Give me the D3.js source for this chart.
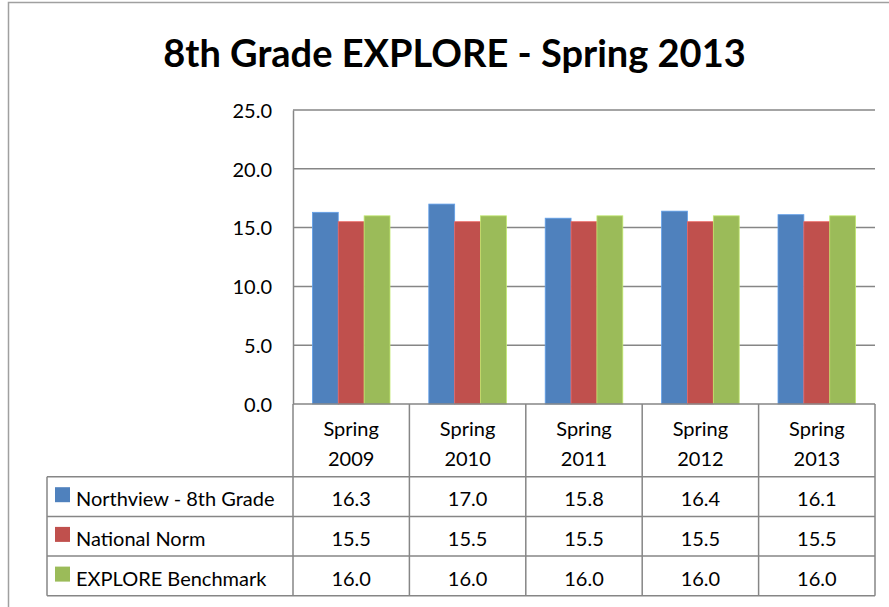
<!DOCTYPE html>
<html>
<head>
<meta charset="utf-8">
<script src="https://cdn.jsdelivr.net/npm/d3@7"></script>
<style>
  body { margin: 0; background: #fff; }
  svg text { font-family: Lato, "Open Sans", sans-serif; fill: #000; }
</style>
</head>
<body>
<div id="chart"></div>
<script>
const categories = ["Spring 2009", "Spring 2010", "Spring 2011", "Spring 2012", "Spring 2013"];
const seriesNames = ["Northview - 8th Grade", "National Norm", "EXPLORE Benchmark"];
const northview = [16.3, 17.0, 15.8, 16.4, 16.1];
const nationalNorm = [15.5, 15.5, 15.5, 15.5, 15.5];
const benchmark = [16.0, 16.0, 16.0, 16.0, 16.0];
const yTicks = [0, 5, 10, 15, 20, 25];
const colors = ["#4F81BD", "#C0504D", "#9BBB59"];

const W = 889, H = 607;
const plot = { left: 293, right: 875, top: 110, bottom: 404 };
const table = { left: 47, rowH: 39.7, headerBottom: 476.7 };
const gridColor = "#868686";
const fontSize = "20px";

const seriesValues = [northview, nationalNorm, benchmark];

const svg = d3.select("#chart")
  .append("svg")
  .attr("width", W)
  .attr("height", H);

// outer frame
svg.append("rect")
  .attr("x", 8.5).attr("y", 2.5)
  .attr("width", W + 10).attr("height", H + 10)
  .attr("fill", "none")
  .attr("stroke", "#a0a0a0")
  .attr("stroke-width", 1.5);

// title
svg.append("text")
  .attr("x", 454.5)
  .attr("y", 67)
  .attr("text-anchor", "middle")
  .style("font-size", "38px")
  .style("font-weight", "bold")
  .text("8th Grade EXPLORE - Spring 2013");

const x = d3.scaleBand()
  .domain(categories)
  .range([plot.left, plot.right])
  .paddingInner(0).paddingOuter(0);

const xs = d3.scaleBand()
  .domain(seriesNames)
  .range([0, x.bandwidth()])
  .paddingInner(0)
  .paddingOuter(0.75);

const y = d3.scaleLinear()
  .domain([0, 25])
  .range([plot.bottom, plot.top]);

// gridlines
svg.append("g")
  .selectAll("line")
  .data(yTicks.filter(d => d > 0))
  .join("line")
  .attr("x1", plot.left).attr("x2", plot.right)
  .attr("y1", d => y(d)).attr("y2", d => y(d))
  .attr("stroke", gridColor)
  .attr("stroke-width", 1.5);

// y axis
const yAxis = svg.append("g")
  .attr("transform", `translate(${plot.left},0)`)
  .call(d3.axisLeft(y).tickValues(yTicks).tickFormat(d3.format(".1f")).tickSize(0).tickPadding(21));
yAxis.select(".domain").attr("stroke", gridColor).attr("stroke-width", 1.5);
yAxis.selectAll("text")
  .style("font-size", fontSize)
  .attr("dy", "0.36em");

// bars
const groups = svg.append("g")
  .selectAll("g")
  .data(categories)
  .join("g")
  .attr("transform", d => `translate(${x(d)},0)`);

groups.selectAll("rect")
  .data((c, i) => seriesNames.map((s, j) => ({ series: s, value: seriesValues[j][i], color: colors[j] })))
  .join("rect")
  .attr("x", d => xs(d.series))
  .attr("y", d => y(d.value))
  .attr("width", xs.bandwidth())
  .attr("height", d => y(0) - y(d.value))
  .attr("fill", d => d.color)
  .attr("stroke", d => d3.color(d.color).brighter(0.6))
  .attr("stroke-width", 0.8);

// axis baseline
svg.append("line")
  .attr("x1", plot.left).attr("x2", plot.right)
  .attr("y1", plot.bottom).attr("y2", plot.bottom)
  .attr("stroke", gridColor).attr("stroke-width", 1.5);

// data table
const tableBottom = table.headerBottom + table.rowH * seriesNames.length;
const tg = svg.append("g");

// vertical lines for category columns
const colEdges = categories.map(c => x(c)).concat([plot.right]);
tg.selectAll("line.col")
  .data(colEdges)
  .join("line")
  .attr("class", "col")
  .attr("x1", d => d).attr("x2", d => d)
  .attr("y1", plot.bottom).attr("y2", tableBottom)
  .attr("stroke", gridColor).attr("stroke-width", 1.5);

// legend column left edge
tg.append("line")
  .attr("x1", table.left).attr("x2", table.left)
  .attr("y1", table.headerBottom).attr("y2", tableBottom)
  .attr("stroke", gridColor).attr("stroke-width", 1.5);

// horizontal row lines
const rowEdges = d3.range(seriesNames.length + 1).map(i => table.headerBottom + i * table.rowH);
tg.selectAll("line.row")
  .data(rowEdges)
  .join("line")
  .attr("class", "row")
  .attr("x1", table.left).attr("x2", plot.right)
  .attr("y1", d => d).attr("y2", d => d)
  .attr("stroke", gridColor).attr("stroke-width", 1.5);

// header labels
const header = tg.selectAll("text.hdr")
  .data(categories)
  .join("text")
  .attr("class", "hdr")
  .attr("text-anchor", "middle")
  .attr("x", d => x(d) + x.bandwidth() / 2)
  .style("font-size", fontSize);
header.append("tspan").attr("x", d => x(d) + x.bandwidth() / 2).attr("y", 436).text(d => d.split(" ")[0]);
header.append("tspan").attr("x", d => x(d) + x.bandwidth() / 2).attr("y", 466).text(d => d.split(" ")[1]);

// rows
seriesNames.forEach((s, j) => {
  const rowTop = table.headerBottom + j * table.rowH;
  tg.append("rect")
    .attr("x", 55).attr("y", rowTop + 10.5)
    .attr("width", 15).attr("height", 15)
    .attr("fill", colors[j]);
  tg.append("text")
    .attr("x", 76).attr("y", rowTop + 29.5)
    .style("font-size", fontSize)
    .text(s);
  tg.selectAll(null)
    .data(categories)
    .join("text")
    .attr("text-anchor", "middle")
    .attr("x", d => x(d) + x.bandwidth() / 2)
    .attr("y", rowTop + 29.5)
    .style("font-size", fontSize)
    .text((d, i) => d3.format(".1f")(seriesValues[j][i]));
});
</script>
</body>
</html>
